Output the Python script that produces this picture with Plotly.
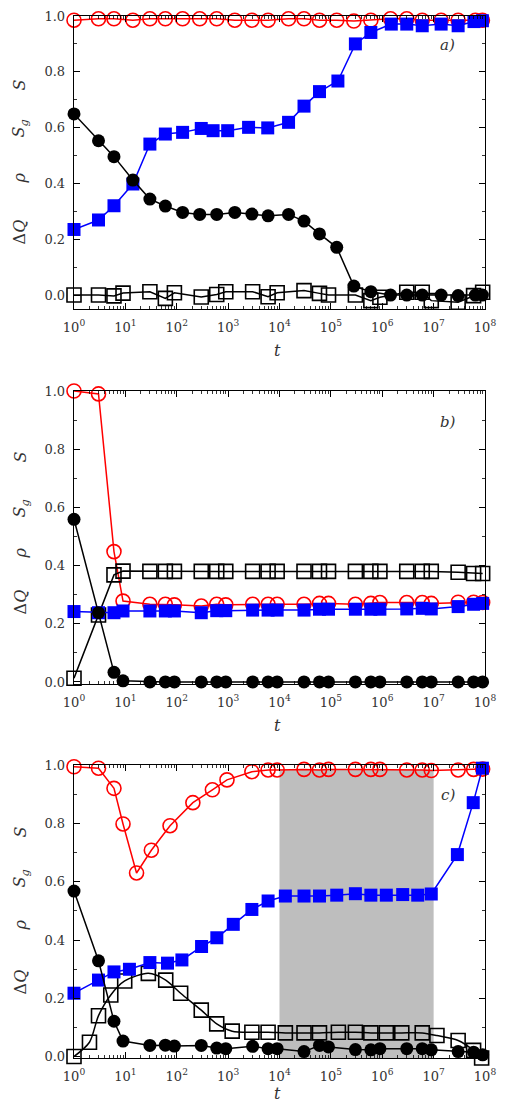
import plotly.graph_objects as go

# ---------------- data ----------------
T_STD = [1, 3, 6, 9, 30, 60, 90, 300, 600, 900, 3e3, 6e3, 9e3, 3e4, 6e4, 9e4,
         3e5, 6e5, 9e5, 3e6, 6e6, 9e6, 3e7, 6e7, 9e7]

# panel a)
T_A = [1, 3, 6, 14, 30, 60, 130, 280, 600, 1350, 2900, 6000, 1.5e4, 3e4, 6e4, 1.3e5,
       2.8e5, 6e5, 1.45e6, 3e6, 6e6, 1.4e7, 3e7, 6.5e7, 8.9e7]
T_A_SG = [1, 3, 6, 14, 30, 60, 130, 300, 510, 980, 2500, 5900, 1.5e4, 3e4, 6e4, 1.37e5,
          3e5, 6e5, 1.5e6, 3e6, 6e6, 1.4e7, 3e7, 6.1e7, 8.9e7]
A_S = [0.985, 0.99, 0.99, 0.985, 0.99, 0.99, 0.99, 0.99, 0.99, 0.985, 0.985, 0.985, 0.99,
       0.99, 0.985, 0.985, 0.982, 0.985, 0.99, 0.99, 0.985, 0.985, 0.985, 0.985, 0.985]
A_SG = [0.235, 0.269, 0.32, 0.398, 0.541, 0.577, 0.583, 0.597, 0.589, 0.589, 0.601, 0.599,
        0.619, 0.677, 0.729, 0.767, 0.90, 0.941, 0.971, 0.971, 0.965, 0.971, 0.965, 0.98, 0.983]
A_RHO = [0.649, 0.553, 0.496, 0.412, 0.344, 0.319, 0.296, 0.289, 0.289, 0.296, 0.290, 0.284,
         0.289, 0.265, 0.219, 0.171, 0.032, 0.012, 0.0, 0.0, 0.0, 0.0, -0.002, 0.0, 0.0]
A_DQ = [0.0, 0.0, -0.003, 0.007, 0.012, -0.012, 0.008, -0.007, 0.002, 0.012, 0.012, -0.006,
        0.008, 0.016, 0.006, 0.0, 0.0, -0.020, -0.008, 0.010, 0.010, -0.020, -0.026, -0.002, 0.010]

# panel b)
B_S = [1.0, 0.99, 0.448, 0.278, 0.267, 0.267, 0.265, 0.261, 0.267, 0.265, 0.267, 0.267, 0.267,
       0.267, 0.27, 0.27, 0.267, 0.27, 0.273, 0.273, 0.273, 0.27, 0.274, 0.274, 0.273]
B_SG = [0.242, 0.238, 0.238, 0.244, 0.244, 0.244, 0.244, 0.238, 0.245, 0.245, 0.247, 0.247,
        0.247, 0.247, 0.25, 0.25, 0.25, 0.25, 0.25, 0.251, 0.253, 0.251, 0.259, 0.267, 0.27]
B_RHO = [0.559, 0.238, 0.033, 0.004, 0.0, 0.0, 0.0, 0.0, 0.0, 0.0, 0.0, 0.0, 0.0, 0.0, 0.0,
         0.0, 0.0, 0.0, 0.0, 0.0, 0.0, 0.0, 0.0, 0.0, 0.0]
B_DQ = [0.013, 0.23, 0.368, 0.381, 0.38, 0.38, 0.38, 0.38, 0.38, 0.38, 0.38, 0.38, 0.38, 0.38,
        0.38, 0.38, 0.38, 0.38, 0.38, 0.38, 0.38, 0.38, 0.377, 0.373, 0.373]

# panel c)
T_C_S = [1, 3, 6, 9, 16.5, 32, 74, 206, 494, 950, 2900, 6000, 9000, 3e4, 6e4, 9e4, 3e5, 6e5,
         9e5, 3e6, 6e6, 9e6, 3e7, 6e7, 9e7]
C_S = [0.994, 0.989, 0.920, 0.798, 0.630, 0.708, 0.792, 0.871, 0.915, 0.949, 0.977, 0.983,
       0.983, 0.985, 0.983, 0.985, 0.985, 0.985, 0.985, 0.983, 0.983, 0.981, 0.983, 0.985, 0.986]
T_C_SG = [1, 3, 6, 12, 30, 66, 126, 304, 603, 1260, 2900, 6000, 1.3e4, 3e4, 6e4, 1.3e5, 3e5,
          6e5, 1.2e6, 2.5e6, 4.9e6, 9e6, 2.9e7, 5.9e7, 8.9e7]
C_SG = [0.218, 0.263, 0.291, 0.300, 0.323, 0.321, 0.332, 0.378, 0.408, 0.454, 0.505, 0.534,
        0.551, 0.551, 0.551, 0.554, 0.559, 0.554, 0.554, 0.556, 0.554, 0.558, 0.693, 0.871, 0.989]
C_RHO = [0.568, 0.329, 0.122, 0.054, 0.039, 0.040, 0.037, 0.039, 0.030, 0.028, 0.036, 0.028,
         0.028, 0.018, 0.039, 0.034, 0.025, 0.024, 0.028, 0.028, 0.028, 0.024, 0.018, 0.016, 0.007]
T_C_DQ = [1, 2, 3, 5.2, 9.7, 28, 61, 119, 300, 600, 1200, 2900, 6000, 1.3e4, 3e4, 6e4, 1.4e5,
          3e5, 6e5, 1.2e6, 2.4e6, 6e6, 1.16e7, 3e7, 6e7, 8.6e7]
C_DQ = [0.001, 0.050, 0.141, 0.212, 0.260, 0.286, 0.263, 0.218, 0.160, 0.113, 0.088, 0.084,
        0.084, 0.082, 0.082, 0.082, 0.084, 0.084, 0.082, 0.082, 0.082, 0.082, 0.073, 0.056,
        0.022, -0.004]
SHADE_C = [1e4, 1e7]
SHADE_TOP = 0.985

X_TICKS = [10 ** k for k in range(9)]
X_TICKTEXT = ["10<sup>%d</sup>" % k for k in range(9)]
X_MINOR = [m * 10 ** k for k in range(8) for m in range(2, 10)]
Y_TICKS = [0.0, 0.2, 0.4, 0.6, 0.8, 1.0]
Y_TICKTEXT = ["0.0", "0.2", "0.4", "0.6", "0.8", "1.0"]
PANEL_LABELS = ["a)", "b)", "c)"]

# ---------------- figure ----------------
W, H = 505, 1104
ML, MR, MT, MB = 74, 9, 16, 46
plot_h = H - MT - MB


def py(pix):
    return (H - MB - pix) / plot_h


panels = [
    dict(top=16, bot=309, yr=[-0.05, 1.0],
         series=[(T_A, A_S, "S"), (T_STD, A_DQ, "DQ"), (T_A_SG, A_SG, "SG"), (T_A, A_RHO, "RHO")],
         ylab=[85, 128, 178, 232], tlab=350, plab=45),
    dict(top=391, bot=684, yr=[-0.007, 1.0],
         series=[(T_STD, B_S, "S"), (T_STD, B_DQ, "DQ"), (T_STD, B_SG, "SG"), (T_STD, B_RHO, "RHO")],
         ylab=[457, 508, 553, 602], tlab=725, plab=422),
    dict(top=765, bot=1058, yr=[-0.004, 1.0],
         series=[(T_C_S, C_S, "S"), (T_C_DQ, C_DQ, "DQ"), (T_C_SG, C_SG, "SG"), (T_STD, C_RHO, "RHO")],
         ylab=[832, 878, 925, 982], tlab=1093, plab=795),
]

styles = {
    "S": dict(mode="lines+markers", line=dict(color="#ff0000", width=1.5),
              marker=dict(symbol="circle-open", size=14, color="#ff0000", line=dict(width=1.6))),
    "DQ": dict(mode="lines+markers", line=dict(color="#000000", width=1.5),
               marker=dict(symbol="square-open", size=14, color="#000000", line=dict(width=1.6))),
    "SG": dict(mode="lines+markers", line=dict(color="#0000ff", width=1.5),
               marker=dict(symbol="square", size=13, color="#0000ff")),
    "RHO": dict(mode="lines+markers", line=dict(color="#000000", width=1.5),
                marker=dict(symbol="circle", size=13, color="#000000")),
}

SERIF = "DejaVu Serif"
TXT = "#333333"
fig = go.Figure()
layout = dict(width=W, height=H, margin=dict(l=ML, r=MR, t=MT, b=MB),
              plot_bgcolor="white", paper_bgcolor="white", showlegend=False,
              font=dict(family=SERIF, size=13, color=TXT))
annotations = []
shapes = []

for i, p in enumerate(panels):
    n = i + 1
    xa = "x" if n == 1 else "x%d" % n
    ya = "y" if n == 1 else "y%d" % n
    for tv, vals, key in p["series"]:
        st = dict(styles[key])
        if key == "DQ" and n == 3:
            st["line"] = dict(color="#000000", width=1.5, shape="spline", smoothing=0.8)
        fig.add_trace(go.Scatter(x=tv, y=vals, xaxis=xa, yaxis=ya, cliponaxis=False,
                                 hoverinfo="skip", **st))
    dom = [py(p["bot"]), py(p["top"])]
    layout["xaxis" + ("" if n == 1 else str(n))] = dict(
        type="log", range=[0, 8], domain=[0, 1], anchor=ya,
        tickmode="array", tickvals=X_TICKS, ticktext=X_TICKTEXT,
        ticks="inside", ticklen=6, tickwidth=1, tickcolor="black",
        showline=True, linecolor="black", linewidth=1.3, mirror="ticks",
        showgrid=False, zeroline=False, ticklabelstandoff=6, ticklabeloverflow="allow",
        tickfont=dict(family=SERIF, size=13, color=TXT),
        minor=dict(tickmode="array", tickvals=X_MINOR, ticks="inside", ticklen=3,
                   tickwidth=0.8, tickcolor="black", showgrid=False),
    )
    layout["yaxis" + ("" if n == 1 else str(n))] = dict(
        range=p["yr"], domain=dom, anchor=xa,
        tickmode="array", tickvals=Y_TICKS, ticktext=Y_TICKTEXT,
        ticks="inside", ticklen=6, tickwidth=1, tickcolor="black",
        showline=True, linecolor="black", linewidth=1.3, mirror="ticks",
        showgrid=False, zeroline=False, ticklabelstandoff=5,
        tickfont=dict(family=SERIF, size=13, color=TXT),
        minor=dict(dtick=0.1, tick0=0, ticks="inside", ticklen=3, tickwidth=0.8,
                   tickcolor="black", showgrid=False),
    )
    for txt, yp in zip(["<i>S</i>", "<i>S</i><sub><i>g</i></sub>", "<i>ρ</i>", "Δ<i>Q</i>"], p["ylab"]):
        annotations.append(dict(text=txt, xref="paper", yref="paper", x=(19 - ML) / (W - ML - MR),
                                y=py(yp), textangle=-90, showarrow=False, xanchor="center",
                                yanchor="middle", font=dict(family=SERIF, size=16, color=TXT)))
    annotations.append(dict(text="<i>t</i>", xref="paper", yref="paper", x=0.495, y=py(p["tlab"]),
                            showarrow=False, xanchor="center", yanchor="middle", borderpad=0,
                            font=dict(family=SERIF, size=16, color=TXT)))
    annotations.append(dict(text="<i>%s</i>" % PANEL_LABELS[i], xref="paper", yref="paper",
                            x=(458 - ML) / (W - ML - MR), y=py(p["plab"]), showarrow=False,
                            xanchor="center", yanchor="middle",
                            font=dict(family=SERIF, size=15, color=TXT)))

shapes.append(dict(type="rect", xref="x3", yref="y3", x0=SHADE_C[0], x1=SHADE_C[1],
                   y0=-0.004, y1=SHADE_TOP, fillcolor="#bebebe", line=dict(width=0),
                   layer="below"))

layout["annotations"] = annotations
layout["shapes"] = shapes
fig.update_layout(**layout)
fig.write_html("out.html", config={"displayModeBar": False, "staticPlot": True},
               post_script="document.body.style.margin='0px';document.body.style.padding='0px';")
